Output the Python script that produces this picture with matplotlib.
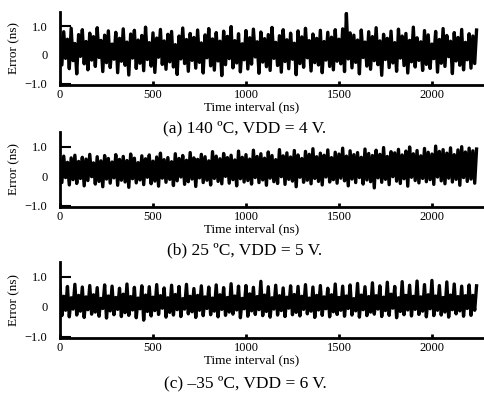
import numpy as np
import matplotlib
matplotlib.use("Agg")
import matplotlib.pyplot as plt

plt.rcParams['font.family'] = ['Liberation Serif', 'DejaVu Serif']

sample_step_ns = 10

err_a = [
    0.62,-0.35,0.81,-0.12,0.55,-0.48,0.93,-0.20,0.40,-0.66,0.71,-0.05,
    0.88,-0.31,0.47,-0.52,0.76,-0.18,0.64,-0.40,0.95,-0.09,0.51,-0.58,
    0.69,-0.27,0.84,-0.44,0.38,-0.15,0.79,-0.62,0.58,-0.22,0.91,-0.36,
    0.45,-0.70,0.73,-0.11,0.86,-0.47,0.52,-0.29,0.68,-0.55,0.97,-0.16,
    0.43,-0.39,0.77,-0.61,0.59,-0.08,0.89,-0.33,0.49,-0.50,0.72,-0.24,
    0.82,-0.42,0.36,-0.68,0.66,-0.14,0.94,-0.30,0.54,-0.57,0.75,-0.19,
    0.61,-0.46,0.87,-0.26,0.42,-0.63,0.70,-0.10,0.92,-0.38,0.56,-0.53,
    0.78,-0.21,0.48,-0.72,0.83,-0.34,0.65,-0.13,0.99,-0.45,0.50,-0.28,
    0.74,-0.59,0.39,-0.17,0.85,-0.49,0.60,-0.32,0.90,-0.07,0.46,-0.64,
    0.80,-0.25,0.57,-0.41,0.71,-0.54,0.96,-0.12,0.44,-0.37,0.67,-0.60,
    0.88,-0.23,0.53,-0.48,0.76,-0.15,0.41,-0.69,0.84,-0.30,0.63,-0.43,
    0.93,-0.10,0.50,-0.56,0.73,-0.27,0.58,-0.35,0.86,-0.62,0.47,-0.18,
    0.79,-0.40,0.62,-0.52,0.88,-0.22,0.55,-0.31,0.91,-0.58,1.45,-0.14,
    0.77,-0.45,0.69,-0.26,0.52,-0.66,0.87,-0.09,0.45,-0.39,0.81,-0.50,
    0.64,-0.20,0.95,-0.34,0.49,-0.71,0.72,-0.16,0.58,-0.44,0.83,-0.28,
    0.43,-0.57,0.90,-0.11,0.66,-0.37,0.75,-0.63,0.51,-0.24,0.97,-0.42,
    0.60,-0.19,0.46,-0.54,0.85,-0.33,0.70,-0.47,0.38,-0.13,0.82,-0.60,
    0.54,-0.29,0.92,-0.40,0.68,-0.06,0.48,-0.65,0.78,-0.21,0.61,-0.36,
    0.89,-0.52,0.44,-0.17,0.74,-0.46,0.66,-0.30,0.87,
]

err_b = [
    0.55,-0.22,0.68,-0.05,0.47,-0.30,0.62,-0.12,0.71,-0.25,0.50,-0.08,
    0.64,-0.33,0.58,-0.15,0.74,-0.02,0.45,-0.27,0.66,-0.18,0.52,-0.36,
    0.70,-0.10,0.60,-0.24,0.48,-0.06,0.73,-0.31,0.57,-0.14,0.67,-0.20,
    0.53,-0.38,0.75,-0.09,0.61,-0.23,0.46,-0.13,0.69,-0.29,0.59,-0.04,
    0.72,-0.26,0.51,-0.17,0.65,-0.34,0.78,-0.07,0.56,-0.21,0.63,-0.11,
    0.49,-0.32,0.76,-0.16,0.60,-0.03,0.70,-0.28,0.54,-0.19,0.80,-0.10,
    0.62,-0.35,0.57,-0.06,0.74,-0.22,0.66,-0.14,0.52,-0.30,0.83,-0.08,
    0.68,-0.18,0.59,-0.26,0.77,-0.01,0.63,-0.24,0.71,-0.12,0.55,-0.33,
    0.85,-0.09,0.64,-0.20,0.73,-0.15,0.58,-0.27,0.88,-0.05,0.67,-0.22,
    0.76,-0.13,0.61,-0.31,0.82,-0.07,0.70,-0.19,0.56,-0.25,0.90,-0.02,
    0.69,-0.28,0.79,-0.11,0.65,-0.17,0.87,-0.36,0.72,-0.04,0.60,-0.21,
    0.84,-0.14,0.74,-0.26,0.93,-0.08,0.66,-0.18,0.78,-0.30,0.71,-0.03,
    0.89,-0.20,0.63,-0.12,0.81,-0.24,0.75,-0.07,0.95,-0.16,0.68,-0.33,
    0.86,-0.10,0.73,-0.22,0.80,-0.05,0.64,-0.27,0.92,-0.13,0.77,-0.19,
    0.70,-0.40,0.88,-0.06,0.74,-0.21,0.97,-0.11,0.67,-0.29,0.83,-0.02,
    0.79,-0.17,0.91,-0.25,0.72,-0.09,0.85,-0.34,0.99,-0.04,0.76,-0.15,
    0.87,-0.23,0.69,-0.08,0.94,-0.19,0.81,-0.12,0.75,-0.28,1.02,-0.03,
    0.84,-0.16,0.90,-0.26,0.78,-0.07,0.96,-0.20,0.73,-0.11,0.89,-0.31,
    1.00,-0.05,0.82,-0.18,0.95,-0.10,0.86,-0.24,0.92,
]

err_c = [
    0.72,-0.30,0.35,-0.12,0.68,-0.34,0.30,-0.08,0.75,-0.28,0.38,-0.15,
    0.66,-0.36,0.33,-0.10,0.71,-0.25,0.40,-0.18,0.64,-0.32,0.28,-0.06,
    0.73,-0.38,0.36,-0.14,0.69,-0.27,0.31,-0.09,0.62,-0.33,0.42,-0.20,
    0.76,-0.29,0.34,-0.11,0.65,-0.37,0.29,-0.07,0.70,-0.45,0.39,-0.16,
    0.67,-0.31,0.32,-0.13,0.74,-0.26,0.37,-0.05,0.63,-0.35,0.30,-0.19,
    0.72,-0.28,0.41,-0.10,0.68,-0.33,0.27,-0.08,0.75,-0.24,0.35,-0.17,
    0.61,-0.36,0.38,-0.12,0.70,-0.30,0.33,-0.06,0.66,-0.27,0.29,-0.15,
    0.73,-0.34,0.40,-0.09,0.64,-0.29,0.31,-0.18,0.77,-0.25,0.36,-0.11,
    0.69,-0.37,0.28,-0.07,0.71,-0.32,0.43,-0.14,0.65,-0.26,0.34,-0.10,
    0.85,-0.30,0.39,-0.16,0.67,-0.35,0.30,-0.08,0.72,-0.28,0.37,-0.13,
    0.63,-0.33,0.32,-0.05,0.70,-0.27,0.41,-0.19,0.68,-0.31,0.35,-0.09,
    0.74,-0.24,0.29,-0.15,0.66,-0.36,0.38,-0.11,0.71,-0.29,0.33,-0.07,
    0.62,-0.34,0.40,-0.17,0.76,-0.26,0.31,-0.12,0.69,-0.32,0.36,-0.06,
    0.73,-0.28,0.27,-0.14,0.78,-0.35,0.39,-0.10,0.67,-0.30,0.34,-0.18,
    0.80,-0.25,0.37,-0.08,0.70,-0.33,0.32,-0.13,0.82,-0.29,0.42,-0.05,
    0.68,-0.37,0.30,-0.16,0.84,-0.27,0.38,-0.11,0.72,-0.31,0.35,-0.09,
    0.86,-0.26,0.33,-0.15,0.74,-0.34,0.40,-0.07,0.88,-0.30,0.36,-0.12,
    0.71,-0.28,0.31,-0.18,0.83,-0.35,0.39,-0.10,0.76,-0.24,0.34,-0.14,
    0.69,-0.32,0.37,-0.06,0.73,-0.29,0.38,-0.12,0.70,
]

captions = ["(a) 140 ºC, VDD = 4 V.", "(b) 25 ºC, VDD = 5 V.", "(c) \u201335 ºC, VDD = 6 V."]
x_ticks = [0, 500, 1000, 1500, 2000]
y_ticks = [-1.0, 0.0, 1.0]
y_tick_labels = ["\u22121.0", "0", "1.0"]
x_label = "Time interval (ns)"
y_label = "Error (ns)"

# ---- layout ----
W, H = 484, 396
fig = plt.figure(figsize=(W / 100, H / 100), dpi=100)

panels = [
    # (values, bottom spine px from top, top spine px from top, caption y px)
    (err_a, 85, 12, 128),
    (err_b, 207, 132, 250),
    (err_c, 338, 262, 383),
]
left_px = 60

for i, (vals, bot_px, top_px, cap_px) in enumerate(panels):
    h_px = bot_px - top_px
    ax = fig.add_axes([left_px / W, 1 - bot_px / H, 1.0 - left_px / W, h_px / H])
    t = np.arange(len(vals)) * sample_step_ns
    ax.plot(t, vals, color='black', lw=2.4, solid_joinstyle='round')
    ax.set_xlim(0, 2280)
    ax.set_ylim(-1.05, 1.5)
    for s in ['top', 'right']:
        ax.spines[s].set_visible(False)
    for s in ['left', 'bottom']:
        ax.spines[s].set_linewidth(2.0)
    ax.set_xticks(x_ticks)
    ax.set_yticks(y_ticks)
    ax.set_yticklabels(y_tick_labels)
    ax.tick_params(axis='x', direction='in', length=3, width=2.0, labelsize=9, pad=3)
    ax.tick_params(axis='y', direction='in', length=8, width=1.5, labelsize=9, pad=9)
    ax.set_xlabel(x_label, fontsize=9.5, va='center')
    ax.xaxis.set_label_coords((252 - left_px) / (W - left_px), -22 / h_px)
    ax.set_ylabel(y_label, fontsize=9.5, labelpad=3)
    fig.text(245 / W, 1 - cap_px / H, captions[i], ha='center', va='center', fontsize=12.5)

fig.savefig("out.png", dpi=100, facecolor='white')
